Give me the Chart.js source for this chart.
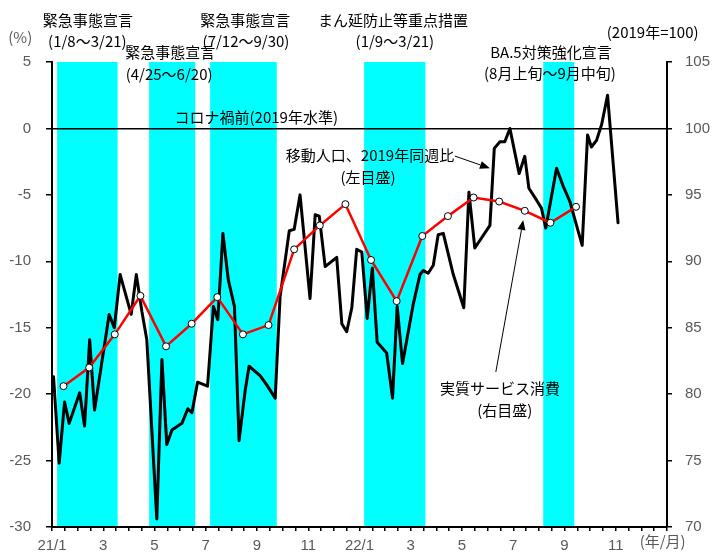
<!DOCTYPE html>
<html lang="ja">
<head>
<meta charset="utf-8">
<title>移動人口と実質サービス消費</title>
<script src="https://cdn.jsdelivr.net/npm/chart.js@4.4.0/dist/chart.umd.min.js"></script>
<style>
  body { margin: 0; background: #fff; }
  canvas { display: block; }
</style>
</head>
<body>
<canvas id="chart" width="723" height="552"></canvas>
<script>
"use strict";

// x axis is counted in months from the start of 2021/1
const xTickLabels = ["21/1", "3", "5", "7", "9", "11", "22/1", "3", "5", "7", "9", "11"];

// Emergency declarations / priority measures (start, end in months)
const emergencyPeriods = [
    [0.20, 2.56],
    [3.79, 5.59],
    [6.17, 8.77],
    [12.18, 14.57],
    [19.17, 20.38]
];

// Mobility, % vs. same week of 2019 (left axis)
const mobilityWeeks = [
    0.06, 0.28, 0.49, 0.67, 1.08, 1.27, 1.47, 1.66, 2.23, 2.43,
    2.66, 3.09, 3.29, 3.51, 3.70, 4.09, 4.29, 4.48, 4.68, 5.07,
    5.30, 5.46, 5.68, 6.07, 6.30, 6.47, 6.67, 6.88, 7.12, 7.30,
    7.54, 7.69, 8.12, 8.38, 8.71, 8.90, 9.26, 9.45, 9.68, 10.07,
    10.27, 10.43, 10.66, 11.11, 11.31, 11.50, 11.70, 11.89, 12.09, 12.30,
    12.50, 12.69, 13.06, 13.29, 13.47, 13.68, 14.10, 14.36, 14.49, 14.68,
    14.88, 15.07, 15.27, 15.66, 16.07, 16.27, 16.50, 17.09, 17.26, 17.48,
    17.67, 17.87, 18.06, 18.23, 18.45, 18.61, 18.91, 19.10, 19.27, 19.69,
    19.94, 20.21, 20.47, 20.69, 20.90, 21.05, 21.25, 21.45, 21.68, 22.09
];
const mobilityPct = [
    -18.7, -25.2, -20.6, -22.2, -19.9, -22.4, -15.9, -21.2, -14.0, -15.0,
    -11.0, -14.0, -11.0, -13.8, -15.9, -29.4, -17.4, -23.8, -22.7, -22.2,
    -21.1, -21.4, -19.1, -19.4, -13.4, -14.4, -7.9, -11.4, -13.4, -23.5,
    -19.7, -17.9, -18.6, -19.3, -20.3, -12.7, -7.7, -7.6, -5.0, -12.8,
    -6.5, -6.6, -10.4, -9.7, -14.7, -15.3, -13.5, -9.1, -9.3, -14.3,
    -10.5, -16.1, -16.9, -20.3, -13.4, -17.7, -13.2, -11.0, -10.7, -10.9,
    -10.3, -8.0, -7.9, -11.0, -13.5, -4.8, -9.0, -7.3, -1.5, -1.0,
    -1.0, 0.0, -1.8, -3.4, -2.1, -4.5, -5.4, -6.0, -7.5, -3.0,
    -4.3, -5.5, -7.3, -8.8, -0.5, -1.4, -0.9, 0.3, 2.5, -7.1
];

// Real services consumption, 2019 = 100 (right axis), 2021/1 - 2022/9
const serviceIndex = [
    80.6, 82.0, 84.5, 87.4, 83.6, 85.3, 87.3, 84.5, 85.2, 90.9, 92.7, 94.3,
    90.1, 87.0, 91.9, 93.4, 94.8, 94.5, 93.8, 92.9, 94.1
];

// Text notes, placed in axis units (x: months, y: left axis %)
const notes = [
    { text: "緊急事態宣言", x: 1.40, y: 8.16 },
    { text: "(1/8～3/21)", x: 1.38, y: 6.58 },
    { text: "緊急事態宣言", x: 4.61, y: 5.75 },
    { text: "(4/25～6/20)", x: 4.57, y: 4.10 },
    { text: "緊急事態宣言", x: 7.54, y: 8.16 },
    { text: "(7/12～9/30)", x: 7.57, y: 6.58 },
    { text: "まん延防止等重点措置", x: 13.31, y: 8.16 },
    { text: "(1/9～3/21)", x: 13.38, y: 6.58 },
    { text: "(2019年=100)", x: 23.44, y: 7.26 },
    { text: "BA.5対策強化宣言", x: 19.47, y: 5.75 },
    { text: "(8月上旬～9月中旬)", x: 19.43, y: 4.17 },
    { text: "コロナ禍前(2019年水準)", x: 7.97, y: 0.86 },
    { text: "移動人口、2019年同週比", x: 12.41, y: -2.0 },
    { text: "(左目盛)", x: 12.33, y: -3.66 },
    { text: "実質サービス消費", x: 17.48, y: -19.54 },
    { text: "(右目盛)", x: 17.67, y: -21.19 },
    { text: "(%)", x: -1.24, y: 6.88, color: "#595959" },
    { text: "(年/月)", x: 23.83, y: -31.05, color: "#595959" }
];

const arrows = [
    { from: [15.72, -2.08], to: [17.09, -3.0] },
    { from: [17.32, -18.33], to: [18.39, -6.89] }
];

/**
 * Shaded emergency periods, drawn under the grid and lines
 */
const bandsPlugin = {
    id: "bands",
    beforeDraw(chart) {
        const { ctx, chartArea, scales } = chart;
        ctx.save();
        ctx.fillStyle = "#00ffff";
        emergencyPeriods.forEach(p => {
            const x0 = scales.x.getPixelForValue(p[0]);
            const x1 = scales.x.getPixelForValue(p[1]);
            ctx.fillRect(x0, chartArea.top, x1 - x0, chartArea.bottom - chartArea.top);
        });
        ctx.restore();
    }
};

/**
 * Draws a thin line with a filled head at (x1, y1)
 */
function drawArrow(ctx, x0, y0, x1, y1){
    const a = Math.atan2(y1 - y0, x1 - x0);
    const len = 10;
    const half = 4;
    ctx.beginPath();
    ctx.moveTo(x0, y0);
    ctx.lineTo(x1 - len * Math.cos(a), y1 - len * Math.sin(a));
    ctx.stroke();
    ctx.beginPath();
    ctx.moveTo(x1, y1);
    ctx.lineTo(x1 - len * Math.cos(a) + half * Math.sin(a), y1 - len * Math.sin(a) - half * Math.cos(a));
    ctx.lineTo(x1 - len * Math.cos(a) - half * Math.sin(a), y1 - len * Math.sin(a) + half * Math.cos(a));
    ctx.closePath();
    ctx.fill();
}

const notesPlugin = {
    id: "notes",
    afterDraw(chart) {
        const { ctx, scales } = chart;
        ctx.save();
        ctx.font = '15px "Noto Sans CJK JP"';
        ctx.textAlign = "center";
        ctx.textBaseline = "middle";
        notes.forEach(n => {
            ctx.fillStyle = n.color || "#000";
            ctx.fillText(n.text, scales.x.getPixelForValue(n.x), scales.y.getPixelForValue(n.y));
        });
        ctx.strokeStyle = "#000";
        ctx.fillStyle = "#000";
        ctx.lineWidth = 1;
        arrows.forEach(a => {
            drawArrow(ctx,
                scales.x.getPixelForValue(a.from[0]), scales.y.getPixelForValue(a.from[1]),
                scales.x.getPixelForValue(a.to[0]), scales.y.getPixelForValue(a.to[1]));
        });
        ctx.restore();
    }
};

const tickFont = { family: '"Liberation Sans", Arial, sans-serif', size: 15 };

new Chart(document.getElementById("chart"), {
    type: "line",
    data: {
        datasets: [
            {
                label: "実質サービス消費",
                data: serviceIndex.map((v, i) => ({ x: i + 0.45, y: v })),
                yAxisID: "y1",
                borderColor: "#ff0000",
                borderWidth: 2.5,
                pointRadius: 3.5,
                pointBackgroundColor: "#ffffff",
                pointBorderColor: "#000000",
                pointBorderWidth: 1
            },
            {
                label: "移動人口、2019年同週比",
                data: mobilityWeeks.map((w, i) => ({ x: w, y: mobilityPct[i] })),
                yAxisID: "y",
                borderColor: "#000000",
                borderWidth: 3,
                borderJoinStyle: "round",
                borderCapStyle: "round",
                pointRadius: 0
            }
        ]
    },
    options: {
        responsive: false,
        animation: false,
        layout: { padding: { top: 62, left: 0, right: 0, bottom: 0 } },
        plugins: {
            legend: { display: false },
            tooltip: { enabled: false }
        },
        scales: {
            x: {
                type: "linear",
                min: 0,
                max: 24,
                afterFit(scale) { scale.height = 25; },
                border: { color: "#000", width: 2 },
                grid: { drawOnChartArea: false, tickLength: 4, tickColor: "#000", lineWidth: 1.5 },
                ticks: {
                    stepSize: 0.5,
                    maxTicksLimit: 100,
                    autoSkip: false,
                    maxRotation: 0,
                    padding: 6,
                    color: "#595959",
                    font: tickFont,
                    callback: v => (v % 2 === 0 && xTickLabels[v / 2]) ? xTickLabels[v / 2] : ""
                }
            },
            y: {
                position: "left",
                min: -30,
                max: 5,
                afterFit(scale) { scale.width = 52; },
                border: { color: "#000", width: 2 },
                grid: {
                    color: ctx => ctx.tick && ctx.tick.value === 0 ? "#000" : "rgba(0,0,0,0)",
                    lineWidth: 1.5,
                    tickColor: "#000",
                    tickLength: 6
                },
                ticks: { stepSize: 5, padding: 15, color: "#595959", font: tickFont }
            },
            y1: {
                position: "right",
                min: 70,
                max: 105,
                afterFit(scale) { scale.width = 56; },
                border: { color: "#000", width: 2 },
                grid: { drawOnChartArea: false, tickColor: "#000", tickLength: 5, lineWidth: 1.5 },
                ticks: { stepSize: 5, padding: 13, color: "#595959", font: tickFont }
            }
        }
    },
    plugins: [bandsPlugin, notesPlugin]
});
</script>
</body>
</html>
